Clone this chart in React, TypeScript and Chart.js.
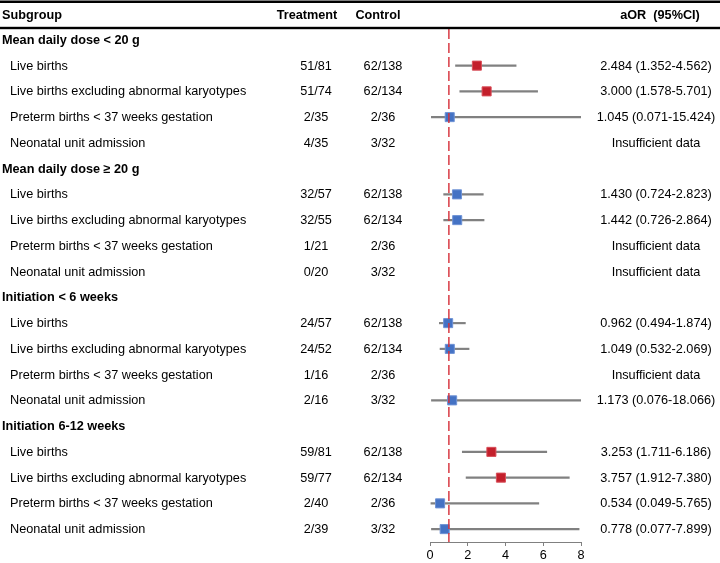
import React, { useEffect, useRef } from "react";
import { Chart, registerables } from "chart.js";

Chart.register(...registerables);

const groups = [
  "Mean daily dose < 20 g",
  "Mean daily dose \u2265 20 g",
  "Initiation < 6 weeks",
  "Initiation 6-12 weeks",
];
const outcomes = [
  "Live births",
  "Live births excluding abnormal karyotypes",
  "Preterm births < 37 weeks gestation",
  "Neonatal unit admission",
];
const treatment = [
  "51/81", "51/74", "2/35", "4/35",
  "32/57", "32/55", "1/21", "0/20",
  "24/57", "24/52", "1/16", "2/16",
  "59/81", "59/77", "2/40", "2/39",
];
const control = [
  "62/138", "62/134", "2/36", "3/32",
  "62/138", "62/134", "2/36", "3/32",
  "62/138", "62/134", "2/36", "3/32",
  "62/138", "62/134", "2/36", "3/32",
];
const aor = [
  2.484, 3.0, 1.045, null,
  1.43, 1.442, null, null,
  0.962, 1.049, null, 1.173,
  3.253, 3.757, 0.534, 0.778,
];
const lower = [
  1.352, 1.578, 0.071, null,
  0.724, 0.726, null, null,
  0.494, 0.532, null, 0.076,
  1.711, 1.912, 0.049, 0.077,
];
const upper = [
  4.562, 5.701, 15.424, null,
  2.823, 2.864, null, null,
  1.874, 2.069, null, 18.066,
  6.186, 7.38, 5.765, 7.899,
];
const xTicks = [0, 2, 4, 6, 8];
const headers = ["Subgroup", "Treatment", "Control", "aOR  (95%CI)"];

const RED = "#C31F2B";
const BLUE = "#4472C4";
const FONT = "'Liberation Sans', Arial, sans-serif";

type Row = {
  label: string;
  isGroup: boolean;
  t: string;
  c: string;
  est: number | null;
  lo: number | null;
  hi: number | null;
};

function buildRows(): Row[] {
  const rows: Row[] = [];
  groups.forEach((g, gi) => {
    rows.push({ label: g, isGroup: true, t: "", c: "", est: null, lo: null, hi: null });
    outcomes.forEach((o, oi) => {
      const k = gi * outcomes.length + oi;
      rows.push({
        label: o,
        isGroup: false,
        t: treatment[k],
        c: control[k],
        est: aor[k],
        lo: lower[k],
        hi: upper[k],
      });
    });
  });
  return rows;
}

export default function App() {
  const ref = useRef<HTMLCanvasElement | null>(null);

  useEffect(() => {
    const canvas = ref.current;
    if (!canvas) return;
    const rows = buildRows();
    const labels = rows.map((r, i) => `${i}:${r.label}`);

    const tablePlugin = {
      id: "forestTable",
      afterDatasetsDraw(chart: any) {
        const ctx = chart.ctx;
        const xs = chart.scales.x;
        const area = chart.chartArea;
        const px = xs.getPixelForValue(1);
        ctx.save();
        ctx.strokeStyle = "rgba(214,48,58,0.95)";
        ctx.lineWidth = 1.5;
        ctx.setLineDash([10, 4]);
        ctx.beginPath();
        ctx.moveTo(px, area.top + 2);
        ctx.lineTo(px, area.bottom);
        ctx.stroke();
        ctx.restore();
      },
      afterDraw(chart: any) {
        const ctx = chart.ctx;
        const ys = chart.scales.y;
        const W = chart.width;
        ctx.save();
        ctx.fillStyle = "#000";
        ctx.fillRect(0, 0.5, W, 2.5);
        ctx.fillRect(0, 26.8, W, 2.4);

        ctx.textBaseline = "middle";
        ctx.font = `bold 12.7px ${FONT}`;
        const hy = 15.5;
        ctx.textAlign = "left";
        ctx.fillText(headers[0], 2, hy);
        ctx.textAlign = "center";
        ctx.fillText(headers[1], 307, hy);
        ctx.fillText(headers[2], 378, hy);
        ctx.fillText(headers[3], 660, hy);

        rows.forEach((r, i) => {
          const y = ys.getPixelForValue(i) + 0.5;
          if (r.isGroup) {
            ctx.font = `bold 12.7px ${FONT}`;
            ctx.textAlign = "left";
            ctx.fillText(r.label, 2, y);
            return;
          }
          ctx.font = `12.7px ${FONT}`;
          ctx.textAlign = "left";
          ctx.fillText(r.label, 10, y);
          ctx.textAlign = "center";
          ctx.fillText(r.t, 316, y);
          ctx.fillText(r.c, 383, y);
          const txt =
            r.est == null || r.lo == null || r.hi == null
              ? "Insufficient data"
              : `${r.est.toFixed(3)} (${r.lo.toFixed(3)}-${r.hi.toFixed(3)})`;
          ctx.fillText(txt, 656, y);
        });
        ctx.restore();
      },
    };

    const chart = new Chart(canvas, {
      data: {
        labels,
        datasets: [
          {
            type: "bar",
            data: rows.map((r) => (r.lo == null || r.hi == null ? null : [r.lo, r.hi])) as any,
            backgroundColor: "#808080",
            borderWidth: 0,
            barThickness: 1.5,
            clip: 0,
            order: 2,
          } as any,
          {
            type: "line",
            data: rows.map((r) => r.est) as any,
            showLine: false,
            pointStyle: "rect",
            pointRadius: 6.4,
            pointHoverRadius: 6.4,
            pointBackgroundColor: rows.map((r) => (r.lo != null && r.lo > 1 ? RED : BLUE)),
            pointBorderColor: rows.map((r) => (r.lo != null && r.lo > 1 ? "#D9505A" : "#6F93D6")),
            pointBorderWidth: 1,
            order: 1,
          } as any,
        ],
      },
      options: {
        indexAxis: "y",
        responsive: false,
        animation: false,
        events: [],
        layout: { padding: { left: 430, right: 139, top: 27, bottom: 0 } },
        plugins: { legend: { display: false }, tooltip: { enabled: false } },
        scales: {
          y: {
            type: "category",
            display: false,
            offset: true,
          },
          x: {
            type: "linear",
            min: 0,
            max: 8,
            position: "bottom",
            afterBuildTicks: (s: any) => {
              s.ticks = xTicks.map((v) => ({ value: v }));
            },
            afterFit: (s: any) => {
              s.height = 21;
            },
            grid: {
              display: true,
              drawOnChartArea: false,
              drawTicks: true,
              tickLength: 4,
              color: "#808080",
            },
            border: { display: true, color: "#808080", width: 1 },
            ticks: {
              color: "#000",
              font: { family: FONT, size: 12.7 },
              padding: 2,
            },
          },
        },
      } as any,
      plugins: [tablePlugin],
    });

    return () => chart.destroy();
  }, []);

  return (
    <div style={{ position: "absolute", left: 0, top: 0, width: 720, height: 563, background: "#fff" }}>
      <canvas ref={ref} width={720} height={563} style={{ display: "block" }} />
    </div>
  );
}
